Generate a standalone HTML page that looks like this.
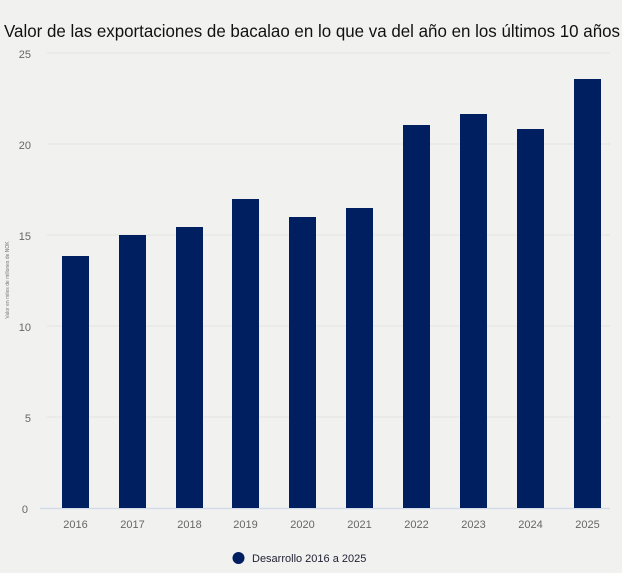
<!DOCTYPE html><html><head><style>body{margin:0;background:#fff}</style></head><body>
<svg width="626" height="575" xmlns="http://www.w3.org/2000/svg" style="display:block;font-family:'Liberation Sans',sans-serif">
<rect x="0" y="0" width="622" height="573" fill="#f1f2f0"/>
<text x="4" y="37" font-size="17.5" fill="#111" textLength="616" lengthAdjust="spacingAndGlyphs">Valor de las exportaciones de bacalao en lo que va del año en los últimos 10 años</text>
<g stroke="#e2e4e2" stroke-width="1">
<line x1="47" x2="610" y1="53" y2="53"/><line x1="47" x2="610" y1="144" y2="144"/><line x1="47" x2="610" y1="235" y2="235"/><line x1="47" x2="610" y1="326" y2="326"/><line x1="47" x2="610" y1="417" y2="417"/>
</g>
<line x1="40" x2="610" y1="508.5" y2="508.5" stroke="#d3dbe8" stroke-width="1.5"/>
<g font-size="11" fill="#666" text-anchor="end">
<text x="31" y="58">25</text><text x="31" y="149">20</text><text x="31" y="240">15</text><text x="31" y="331">10</text><text x="31" y="422">5</text><text x="28" y="513">0</text>
</g>
<text transform="translate(9,280) rotate(-90)" font-size="5" fill="#777" text-anchor="middle">Valor en miles de millones de NOK</text>
<g fill="#001f60">
<rect x="62" y="256" width="27" height="252"/>
<rect x="119" y="235" width="27" height="273"/>
<rect x="176" y="227" width="27" height="281"/>
<rect x="232" y="199" width="27" height="309"/>
<rect x="289" y="217" width="27" height="291"/>
<rect x="346" y="208" width="27" height="300"/>
<rect x="403" y="125" width="27" height="383"/>
<rect x="460" y="114" width="27" height="394"/>
<rect x="517" y="129" width="27" height="379"/>
<rect x="574" y="79" width="27" height="429"/>
</g>
<g font-size="11" fill="#666" text-anchor="middle">
<text x="75.5" y="528">2016</text><text x="132.5" y="528">2017</text><text x="189.5" y="528">2018</text><text x="245.5" y="528">2019</text><text x="302.5" y="528">2020</text><text x="359.5" y="528">2021</text><text x="416.5" y="528">2022</text><text x="473.5" y="528">2023</text><text x="530.5" y="528">2024</text><text x="587.5" y="528">2025</text>
</g>
<circle cx="238.5" cy="558" r="6" fill="#001f60"/>
<text x="252" y="562" font-size="11" fill="#223">Desarrollo 2016 a 2025</text>
</svg></body></html>
